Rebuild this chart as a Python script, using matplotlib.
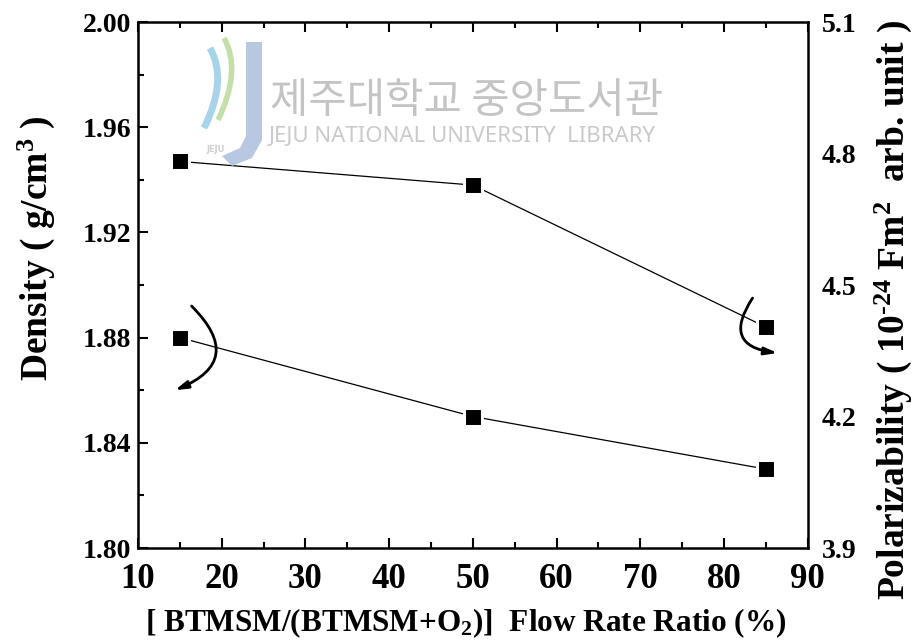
import matplotlib
matplotlib.use("Agg")
import matplotlib.pyplot as plt
from matplotlib.patches import Polygon, PathPatch
from matplotlib.path import Path

# Data
flow_ratio = [15, 50, 85]
density = [1.880, 1.850, 1.830]
polarizability = [4.782, 4.728, 4.404]

x_ticks = [10, 20, 30, 40, 50, 60, 70, 80, 90]
density_ticks = [1.80, 1.84, 1.88, 1.92, 1.96, 2.00]
density_tick_labels = ["1.80", "1.84", "1.88", "1.92", "1.96", "2.00"]
polar_ticks = [3.9, 4.2, 4.5, 4.8, 5.1]
polar_tick_labels = ["3.9", "4.2", "4.5", "4.8", "5.1"]

plt.rcParams["font.family"] = ["Liberation Serif", "DejaVu Serif"]
plt.rcParams["font.weight"] = "bold"
plt.rcParams["mathtext.fontset"] = "custom"
plt.rcParams["mathtext.rm"] = "Liberation Serif:bold"
plt.rcParams["mathtext.it"] = "Liberation Serif:bold"
plt.rcParams["mathtext.bf"] = "Liberation Serif:bold"

fig = plt.figure(figsize=(9.2, 6.42), dpi=100)
ax = fig.add_axes([0.15, 0.1464, 0.728, 0.8193])

# Density on the left axis
ax.plot(flow_ratio, density, color="black", lw=0.9, marker="s", ms=13,
        mfc="black", mec="white", mew=2.2, zorder=3)

ax.set_xlim(10, 90)
ax.set_ylim(1.80, 2.00)
ax.set_xticks(x_ticks)
ax.set_xticks([15, 25, 35, 45, 55, 65, 75, 85], minor=True)
ax.set_yticks(density_ticks)
ax.set_yticklabels(density_tick_labels)
ax.set_yticks([1.82, 1.86, 1.90, 1.94, 1.98], minor=True)
ax.tick_params(which="both", direction="in", top=True, right=True, width=1.5)
ax.tick_params(which="major", length=7)
ax.tick_params(which="minor", length=4)
ax.tick_params(axis="x", labelsize=25, pad=11)
ax.tick_params(axis="y", labelsize=20, pad=5)
for s in ax.spines.values():
    s.set_linewidth(1.8)

ax.set_ylabel(r"Density ( g/cm$^{3}$ )", fontsize=27, fontweight="bold")
ax.yaxis.set_label_coords(-0.121, 0.57)
ax.set_xlabel(r"[ BTMSM/(BTMSM+O$_{2}$)]  Flow Rate Ratio (%)", fontsize=22.5,
              fontweight="bold")
ax.xaxis.set_label_coords(0.489, -0.111)

# Polarizability on the right axis
ax2 = ax.twinx()
ax2.set_ylim(3.9, 5.1)
ax2.set_yticks(polar_ticks)
ax2.set_yticklabels(polar_tick_labels)
ax2.tick_params(axis="y", length=0, labelsize=20, pad=10)
for s in ax2.spines.values():
    s.set_visible(False)
ax2.plot(flow_ratio, polarizability, color="black", lw=0.9, marker="s", ms=13,
         mfc="black", mec="white", mew=2.2, zorder=3)
ax2.set_ylabel(r"Polarizability ( 10$^{\text{-24}}$ Fm$^{2}$  arb. unit )", fontsize=27,
               fontweight="bold")
ax2.yaxis.set_label_coords(1.097, 0.452)

# Curved arrows pointing each series to its axis
ax.annotate("", xy=(14.4, 1.860), xytext=(16.4, 1.892),
            arrowprops=dict(arrowstyle="-|>,head_length=0.75,head_width=0.22",
                            connectionstyle="arc3,rad=-0.75", lw=2, color="black",
                            shrinkA=0, shrinkB=0))
ax2.annotate("", xy=(86.4, 4.345), xytext=(83.4, 4.47),
             arrowprops=dict(arrowstyle="-|>,head_length=0.75,head_width=0.22",
                             connectionstyle="arc3,rad=0.8", lw=2, color="black",
                             shrinkA=0, shrinkB=0))

# Library watermark
fig.text(0.294, 0.824, "제주대학교 중앙도서관", fontsize=30, color="#c4c4c4",
         family=["Noto Sans CJK KR"], fontweight="normal", va="baseline")
fig.text(0.292, 0.779, "JEJU NATIONAL UNIVERSITY  LIBRARY", fontsize=16,
         color="#cacaca", family=["Noto Sans"], fontweight="normal", va="baseline")
W, H = 920, 642


def fx(px):
    return px / W


def fy(py):
    return 1 - py / H


j_shape = Polygon([(fx(246), fy(42)), (fx(262), fy(42)), (fx(262), fy(140)),
                   (fx(252), fy(158)), (fx(232), fy(166)), (fx(222), fy(156)),
                   (fx(240), fy(148)), (fx(246), fy(136))], closed=True,
                  transform=fig.transFigure, facecolor="#b8c8e0", edgecolor="none",
                  zorder=0)
fig.patches.append(j_shape)
for col, pts, lw in [("#c3e0a8", [(224, 38), (242, 70), (218, 120)], 4),
                     ("#a7d4ea", [(210, 48), (228, 80), (204, 128)], 5)]:
    verts = [(fx(px), fy(py)) for px, py in pts]
    path = Path(verts, [Path.MOVETO, Path.CURVE3, Path.CURVE3])
    fig.patches.append(PathPatch(path, transform=fig.transFigure, facecolor="none",
                                 edgecolor=col, lw=lw, zorder=0))
fig.text(fx(206), fy(152), "JEJU", fontsize=6, color="#cfcfcf",
         family=["DejaVu Sans"], fontweight="bold")

fig.savefig("out.png", dpi=100)
